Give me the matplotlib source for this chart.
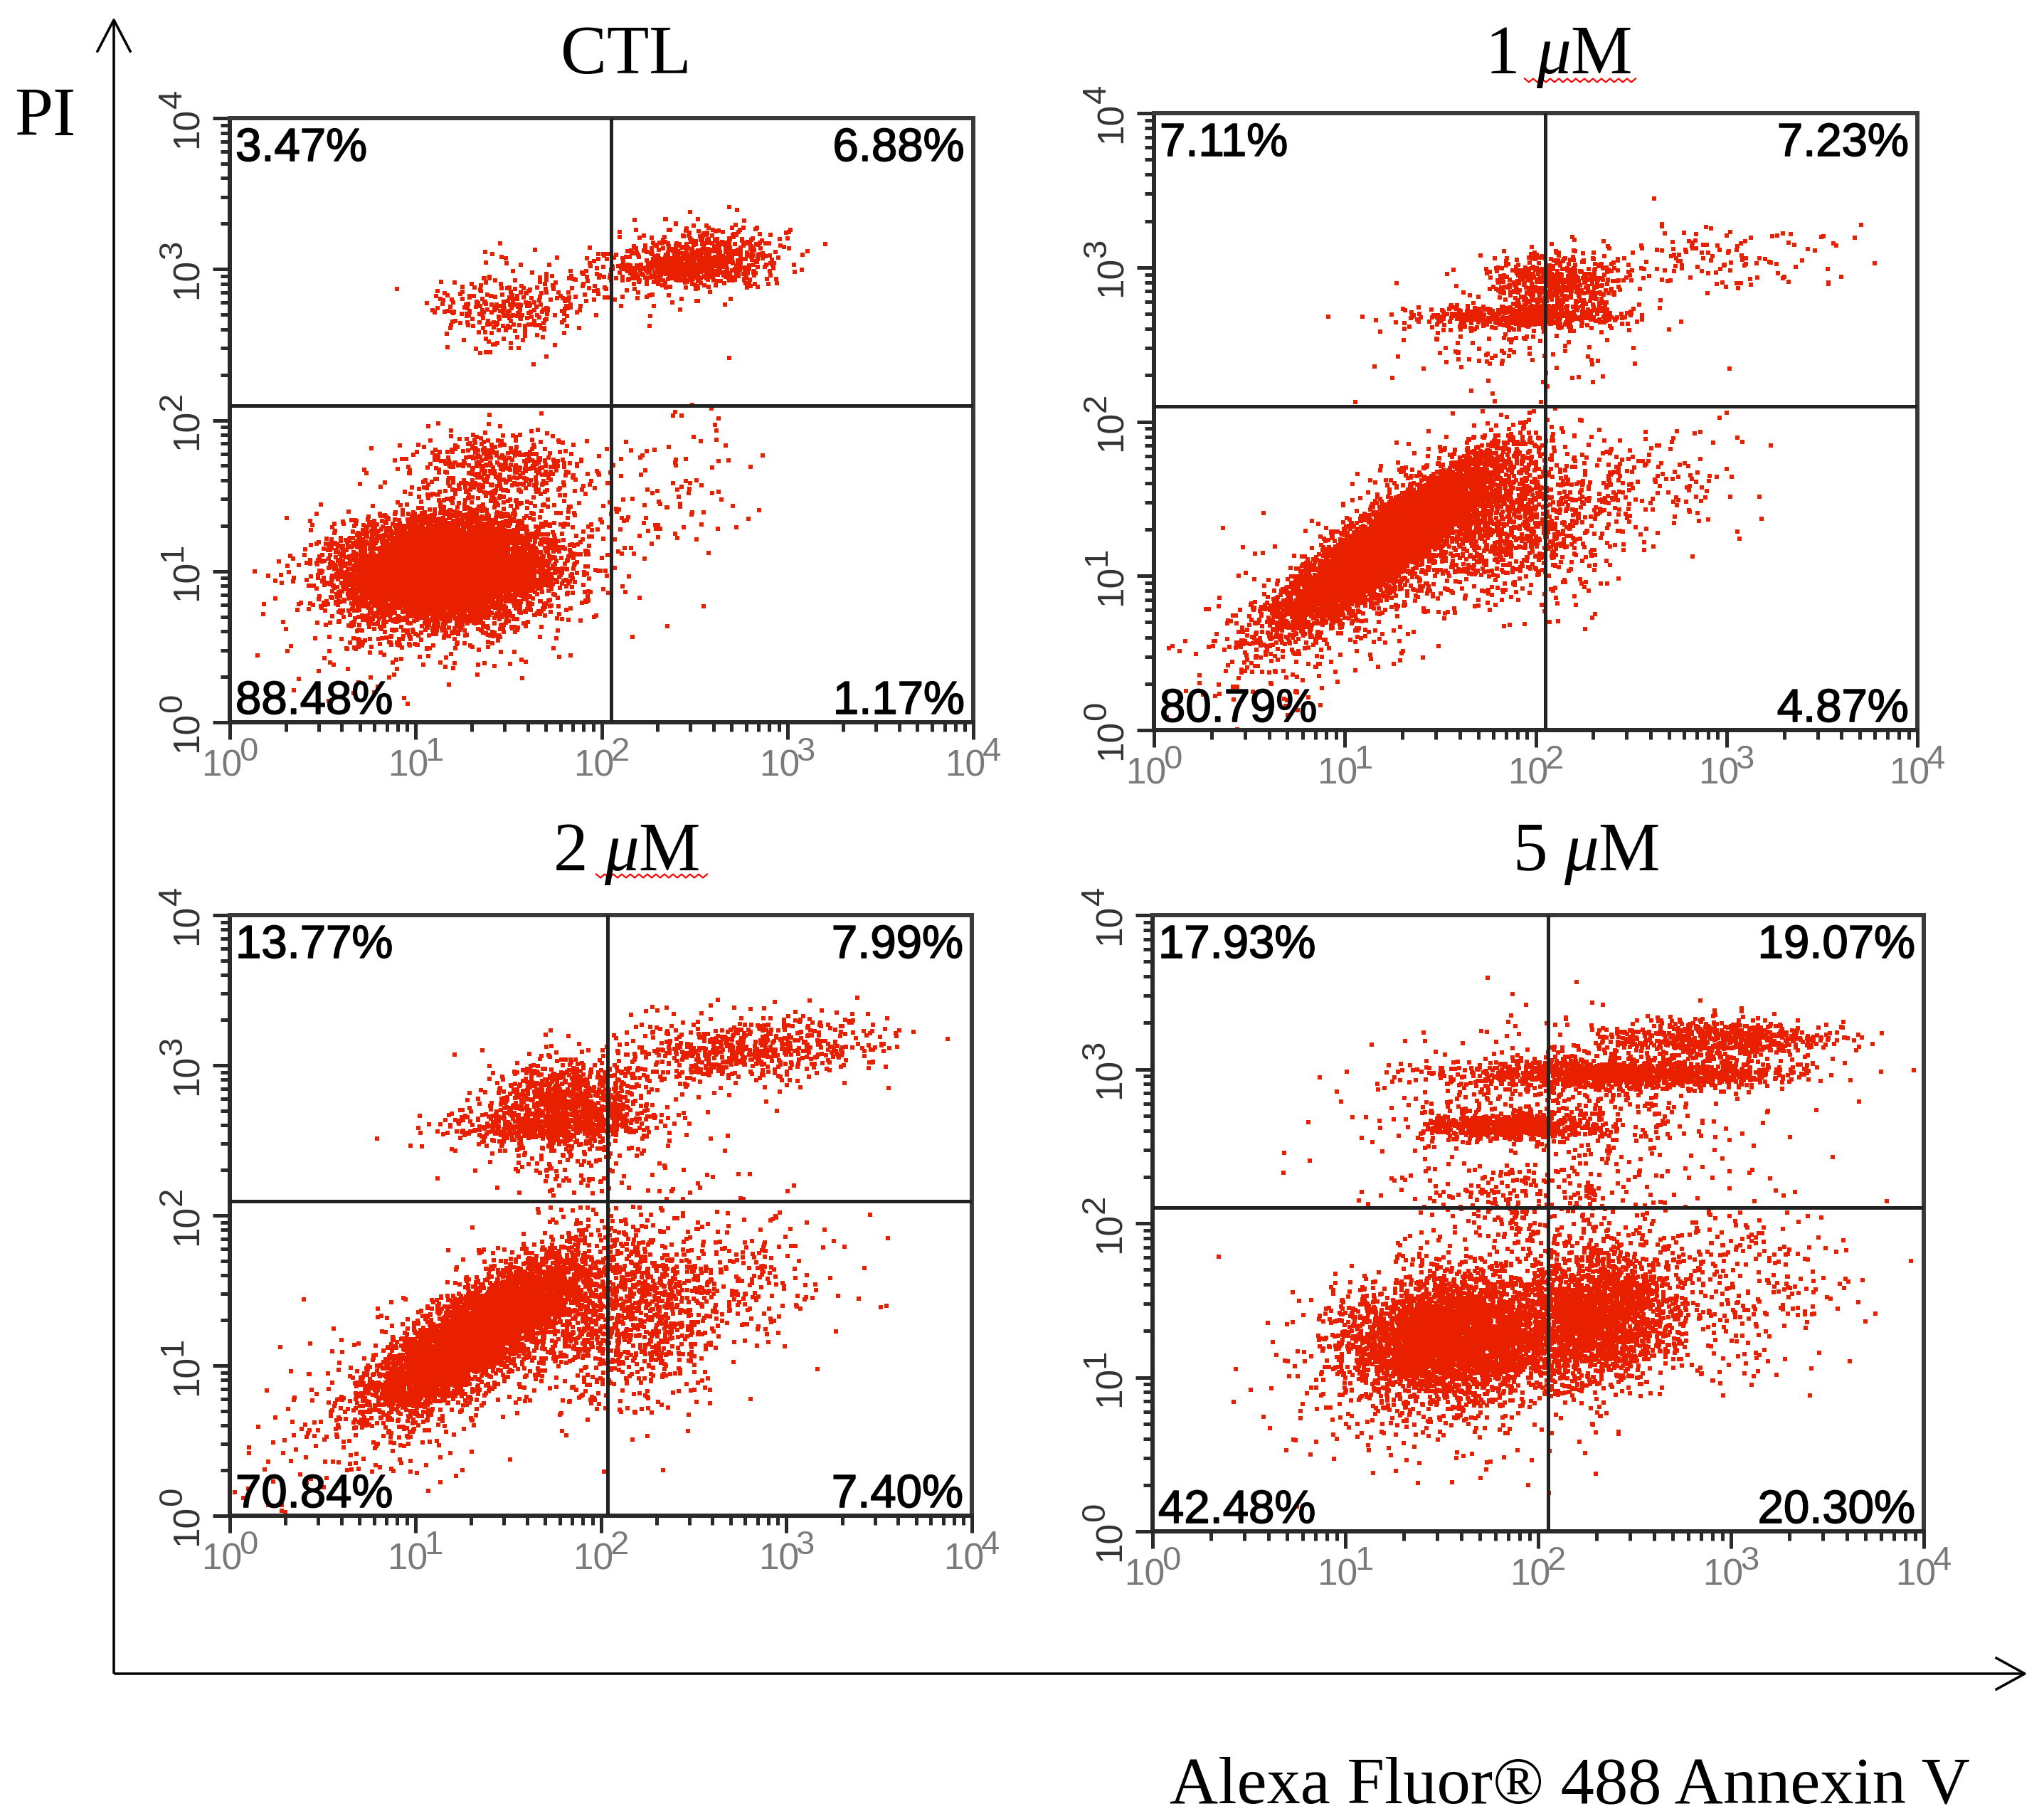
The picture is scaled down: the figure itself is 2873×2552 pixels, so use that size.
import numpy as np
import matplotlib
matplotlib.use("Agg")
import matplotlib.pyplot as plt
from matplotlib import font_manager
import matplotlib.patheffects as pe

# ---------------- data ----------------
PANEL_TITLES = ["CTL", r"$\mathrm{1\ }\mu\mathrm{M}$", r"$\mathrm{2\ }\mu\mathrm{M}$", r"$\mathrm{5\ }\mu\mathrm{M}$"]
# quadrant percentages: upper-left, upper-right, lower-left, lower-right
PCT_CTL = ["3.47%", "6.88%", "88.48%", "1.17%"]
PCT_1UM = ["7.11%", "7.23%", "80.79%", "4.87%"]
PCT_2UM = ["13.77%", "7.99%", "70.84%", "7.40%"]
PCT_5UM = ["17.93%", "19.07%", "42.48%", "20.30%"]
# quadrant gate positions (log10 units)
GATE_X = [2.05, 2.05, 2.035, 2.05]
GATE_Y = [2.095, 2.10, 2.095, 2.10]
TICK_EXP = [0, 1, 2, 3, 4]

# event populations:
# (centre log10 Annexin, centre log10 PI, spread x, spread y, correlation, events)
CLUSTERS_CTL = [
    (1.15, 1.01, 0.25, 0.15, 0.10, 7500),
    (1.20, 1.00, 0.38, 0.30, 0.20, 1500),
    (1.45, 1.68, 0.22, 0.13, 0.00, 400),
    (2.35, 1.55, 0.25, 0.28, 0.20, 100),
    (2.55, 3.07, 0.22, 0.11, 0.00, 600),
    (2.40, 3.00, 0.15, 0.04, 0.00, 250),
    (1.45, 2.72, 0.18, 0.12, 0.00, 250),
    (1.85, 2.90, 0.25, 0.12, 0.00, 100),
]
CLUSTERS_1UM = [
    (1.24, 1.22, 0.26, 0.25, 0.88, 6500),
    (1.10, 1.00, 0.40, 0.40, 0.75, 900),
    (1.85, 1.35, 0.25, 0.25, 0.10, 1100),
    (2.50, 1.55, 0.30, 0.22, 0.10, 200),
    (1.95, 2.68, 0.28, 0.04, 0.00, 550),
    (2.10, 2.90, 0.18, 0.10, 0.00, 550),
    (2.95, 3.05, 0.35, 0.12, 0.00, 130),
    (1.80, 2.45, 0.30, 0.15, 0.00, 80),
]
CLUSTERS_2UM = [
    (1.34, 1.22, 0.25, 0.23, 0.80, 5500),
    (1.20, 1.05, 0.42, 0.40, 0.70, 800),
    (2.10, 1.35, 0.30, 0.28, 0.10, 1300),
    (2.70, 1.60, 0.30, 0.25, 0.00, 200),
    (1.82, 2.75, 0.20, 0.14, 0.00, 900),
    (1.65, 2.60, 0.25, 0.05, 0.00, 300),
    (2.75, 3.10, 0.35, 0.12, 0.20, 650),
    (1.80, 2.50, 0.35, 0.22, 0.00, 250),
]
CLUSTERS_5UM = [
    (1.55, 1.25, 0.27, 0.19, 0.10, 3600),
    (2.30, 1.40, 0.20, 0.21, 0.10, 2200),
    (1.70, 1.20, 0.45, 0.38, 0.20, 700),
    (3.05, 1.60, 0.28, 0.28, 0.00, 300),
    (1.85, 2.63, 0.22, 0.04, 0.00, 700),
    (2.45, 2.97, 0.42, 0.05, 0.00, 1300),
    (2.95, 3.20, 0.30, 0.06, 0.00, 650),
    (2.20, 2.80, 0.50, 0.25, 0.00, 500),
    (1.90, 2.10, 0.35, 0.22, 0.00, 300),
]
PANEL_PCTS = [PCT_CTL, PCT_1UM, PCT_2UM, PCT_5UM]
PANEL_CLUSTERS = [CLUSTERS_CTL, CLUSTERS_1UM, CLUSTERS_2UM, CLUSTERS_5UM]

# ---------------- layout ----------------
W, H, DPI = 2873, 2552, 100
PX = 72.0 / DPI  # points per pixel
BOXES = [(323, 166, 1368, 1015), (1622, 159, 2695, 1026),
         (323, 1286, 1366, 2130), (1620, 1286, 2704, 2152)]
TITLE_POS = [(880, 103), (2190, 103), (880, 1223), (2229, 1223)]
UNDERLINE = [None, (2143, 2303, 113), (838, 996, 1231), None]

names = {f.name for f in font_manager.fontManager.ttflist}
TICKFONT = "Liberation Sans Narrow" if "Liberation Sans Narrow" in names else "Liberation Sans"
SERIF = "Liberation Serif"

plt.rcParams["mathtext.fontset"] = "custom"
plt.rcParams["mathtext.rm"] = SERIF
plt.rcParams["mathtext.it"] = SERIF + ":italic"
plt.rcParams["mathtext.sf"] = "Liberation Sans"

DOT = "#e82000"
rng = np.random.default_rng(7)

fig = plt.figure(figsize=(W / DPI, H / DPI), dpi=DPI)
fig.patch.set_facecolor("white")

# overlay for big arrows / titles in pixel coordinates
ov = fig.add_axes([0, 0, 1, 1], zorder=0)
ov.set_xlim(0, W)
ov.set_ylim(H, 0)
ov.axis("off")

LW_AX = 3.5 * PX
ov.plot([160, 160], [2352, 30], color="black", lw=LW_AX, solid_capstyle="butt")
ov.plot([160, 2846], [2352, 2352], color="black", lw=LW_AX, solid_capstyle="butt")
ov.plot([137, 160, 183], [72, 28, 72], color="black", lw=LW_AX)
ov.plot([2806, 2846, 2806], [2330, 2352, 2374], color="black", lw=LW_AX)

ov.text(20, 190, "PI", fontsize=70, family=SERIF, ha="left", va="baseline")
ov.text(2206, 2533, "Alexa Fluor® 488 Annexin V", fontsize=68, family=SERIF,
        ha="center", va="baseline")

for i in range(4):
    tx, ty = TITLE_POS[i]
    ov.text(tx, ty, PANEL_TITLES[i], fontsize=70, family=SERIF, ha="center", va="baseline")
    if UNDERLINE[i] is not None:
        x0, x1, yy = UNDERLINE[i]
        xs = np.arange(x0, x1 + 1, 6.0)
        ys = yy + np.where(np.arange(len(xs)) % 2 == 0, -2.5, 2.5)
        ov.plot(xs, ys, color="red", lw=2.2 * PX)


def sample(clusters):
    xs, ys = [], []
    for cx, cy, sx, sy, rho, n in clusters:
        cov = [[sx * sx, rho * sx * sy], [rho * sx * sy, sy * sy]]
        p = rng.multivariate_normal([cx, cy], cov, size=n)
        xs.append(p[:, 0])
        ys.append(p[:, 1])
    x = np.concatenate(xs)
    y = np.concatenate(ys)
    keep = (x >= 0) & (x <= 4) & (y >= 0) & (y <= 4)
    return 10 ** x[keep], 10 ** y[keep]


stroke = [pe.withStroke(linewidth=1.6 * PX, foreground="black")]

for i in range(4):
    l, t, r, b = BOXES[i]
    ax = fig.add_axes([l / W, 1 - b / H, (r - l) / W, (b - t) / H], zorder=2)
    ax.set_xscale("log")
    ax.set_yscale("log")
    ax.set_xlim(1, 1e4)
    ax.set_ylim(1, 1e4)
    x, y = sample(PANEL_CLUSTERS[i])
    ax.scatter(x, y, s=19, marker="s", c=DOT, linewidths=0, zorder=1)
    ax.axvline(10 ** GATE_X[i], color="#222222", lw=5 * PX, zorder=3)
    ax.axhline(10 ** GATE_Y[i], color="#222222", lw=5 * PX, zorder=3)
    for sp in ["top", "right"]:
        ax.spines[sp].set_linewidth(6 * PX)
        ax.spines[sp].set_color("#3a3a3a")
    for sp in ["bottom", "left"]:
        ax.spines[sp].set_linewidth(6 * PX)
        ax.spines[sp].set_color("#2a2a2a")
    ax.tick_params(which="major", direction="out", length=24 * PX, width=5 * PX,
                   color="#2a2a2a", labelbottom=False, labelleft=False)
    ax.tick_params(which="minor", direction="out", length=13 * PX, width=5 * PX,
                   color="#2a2a2a", labelbottom=False, labelleft=False)
    ax.xaxis.set_minor_formatter(matplotlib.ticker.NullFormatter())
    ax.yaxis.set_minor_formatter(matplotlib.ticker.NullFormatter())

    # tick labels "10" with full-size superscript
    for k in TICK_EXP:
        v = 10.0 ** k
        ax.annotate("10", xy=(v, 0), xycoords=("data", "axes fraction"),
                    xytext=(-11 * PX, -62 * PX), textcoords="offset points",
                    ha="center", va="center", fontsize=37, family=TICKFONT,
                    color="#7a7a7a", annotation_clip=False)
        ax.annotate(str(k), xy=(v, 0), xycoords=("data", "axes fraction"),
                    xytext=(26 * PX, -42 * PX), textcoords="offset points",
                    ha="center", va="center", fontsize=34, family=TICKFONT,
                    color="#7a7a7a", annotation_clip=False)
        ax.annotate("10", xy=(0, v), xycoords=("axes fraction", "data"),
                    xytext=(-59 * PX, -13 * PX), textcoords="offset points",
                    ha="center", va="center", fontsize=37, family=TICKFONT,
                    color="#333333", rotation=90, annotation_clip=False)
        ax.annotate(str(k), xy=(0, v), xycoords=("axes fraction", "data"),
                    xytext=(-80 * PX, 27 * PX), textcoords="offset points",
                    ha="center", va="center", fontsize=34, family=TICKFONT,
                    color="#333333", rotation=90, annotation_clip=False)

    ul, ur, ll, lr = PANEL_PCTS[i]
    kw = dict(xycoords="axes fraction", textcoords="offset points", fontsize=47,
              family="Liberation Sans", color="black", zorder=5, path_effects=stroke)
    ax.annotate(ul, xy=(0, 1), xytext=(8 * PX, -13 * PX), ha="left", va="top", **kw)
    ax.annotate(ur, xy=(1, 1), xytext=(-12 * PX, -13 * PX), ha="right", va="top", **kw)
    ax.annotate(ll, xy=(0, 0), xytext=(8 * PX, 12 * PX), ha="left", va="baseline", **kw)
    ax.annotate(lr, xy=(1, 0), xytext=(-12 * PX, 12 * PX), ha="right", va="baseline", **kw)

fig.savefig("out.png", dpi=DPI, facecolor="white")
